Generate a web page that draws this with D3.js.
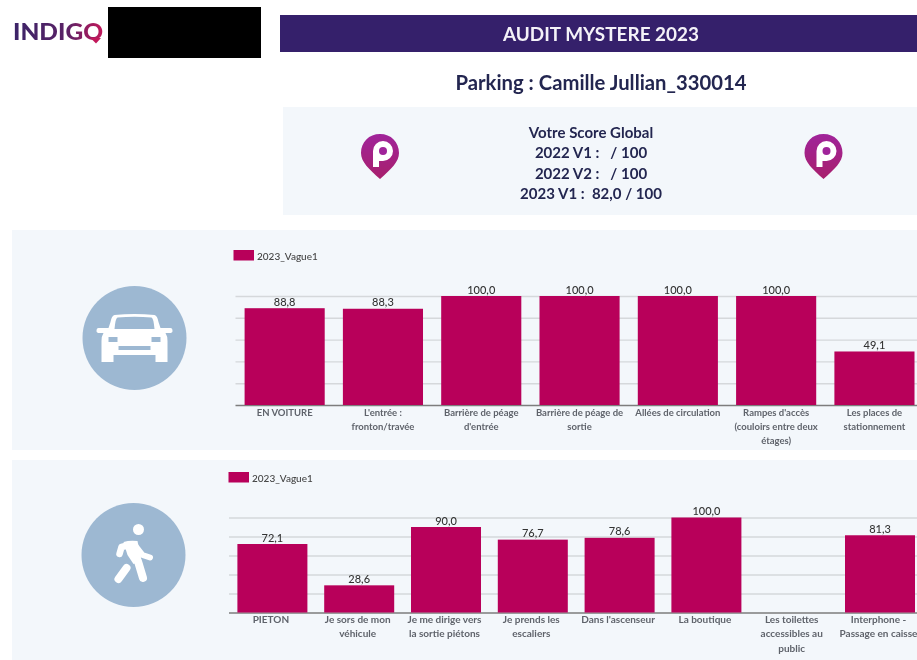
<!DOCTYPE html>
<html><head><meta charset="utf-8">
<script src="https://cdn.jsdelivr.net/npm/d3@7/dist/d3.min.js"></script>
<style>
html,body{margin:0;padding:0;background:#fff;overflow:hidden}
svg{display:block;font-family:Lato,"Open Sans",sans-serif;filter:blur(.5px)}
</style></head><body>
<svg id="c" width="917" height="660"></svg>
<script>
const carCategories = ["EN VOITURE","L'entrée :\nfronton/travée","Barrière de péage\nd'entrée","Barrière de péage de\nsortie","Allées de circulation","Rampes d'accès\n(couloirs entre deux\nétages)","Les places de\nstationnement"];
const carValues = [88.8,88.3,100,100,100,100,49.1];
const walkCategories = ["PIETON","Je sors de mon\nvéhicule","Je me dirige vers\nla sortie piétons","Je prends les\nescaliers","Dans l'ascenseur","La boutique","Les toilettes\naccessibles au\npublic","Interphone -\nPassage en caisse"];
const walkValues = [72.1,28.6,90,76.7,78.6,100,null,81.3];
const seriesName = "2023_Vague1";
const yTicks = [0,20,40,60,80,100];
const scoreLines = ["Votre Score Global","2022 V1 :   / 100","2022 V2 :   / 100","2023 V1 :  82,0 / 100"];

const svg = d3.select("#c");
const fmt = v => v.toFixed(1).replace(".", ",");
const BAR = "#b8005a", PANEL = "#f3f7fb", NAVY = "#232650", BLUE = "#9db8d2";

const defs = svg.append("defs");
const logoGrad = defs.append("linearGradient").attr("id","logo").attr("gradientUnits","userSpaceOnUse").attr("x1",13).attr("x2",103).attr("y1",0).attr("y2",0);
logoGrad.append("stop").attr("offset","0").attr("stop-color","#3b2468");
logoGrad.append("stop").attr("offset","0.6").attr("stop-color","#5a2266");
logoGrad.append("stop").attr("offset","1").attr("stop-color","#c2185b");
const grad = defs.append("linearGradient").attr("id","pin").attr("x1",0).attr("x2",0).attr("y1",0).attr("y2",1);
grad.append("stop").attr("offset","0").attr("stop-color","#a0249a");
grad.append("stop").attr("offset","1").attr("stop-color","#a81f6c");

// page furniture
svg.append("rect").attr("x",108).attr("y",7).attr("width",153).attr("height",51).attr("fill","#000");
svg.append("text").attr("x",13).attr("y",39.5).attr("font-size",23).attr("font-weight",900).attr("fill","url(#logo)").attr("textLength",90).attr("lengthAdjust","spacingAndGlyphs").text("INDIGO");
svg.append("path").attr("d","M90.5 38L96 43.5L101 38Z").attr("fill","#c2185b");
svg.append("rect").attr("x",280).attr("y",15).attr("width",637).attr("height",37).attr("fill","#35206b");
svg.append("text").attr("x",601).attr("y",40.5).attr("text-anchor","middle").attr("font-size",18).attr("font-weight",700).attr("fill","#f4f2f8").attr("textLength",196).attr("lengthAdjust","spacingAndGlyphs").text("AUDIT MYSTERE 2023");
svg.append("text").attr("x",601).attr("y",90).attr("text-anchor","middle").attr("font-size",20).attr("font-weight",700).attr("fill",NAVY).attr("textLength",291).attr("lengthAdjust","spacingAndGlyphs").text("Parking : Camille Jullian_330014");
svg.append("rect").attr("x",283).attr("y",107).attr("width",634).attr("height",108).attr("fill",PANEL);
svg.selectAll("text.score").data(scoreLines).join("text").attr("class","score")
  .attr("x",591).attr("y",(d,i)=>137.5+i*20.5).attr("text-anchor","middle").attr("font-size",15).attr("font-weight",700).attr("fill",NAVY).style("white-space","pre").text(d=>d);

[380,823.5].forEach(x=>{
  const g = svg.append("g").attr("transform",`translate(${x},157)`);
  g.append("path").attr("d","M0-23C11-23 19-15 19-4C19 5 11 12 0 22C-11 12-19 5-19-4C-19-15-11-23 0-23Z").attr("fill","url(#pin)");
  g.append("path").attr("d","M-7 10V-6A10 10 0 1 1 3 4H-1V10Z").attr("fill","#fff");
  g.append("circle").attr("cx",3).attr("cy",-6).attr("r",4).attr("fill","#a0249a");
});

// chart panels
function chart(o){
  svg.append("rect").attr("x",12).attr("y",o.panelTop).attr("width",905).attr("height",o.panelH).attr("fill",PANEL);
  const x = d3.scaleBand().domain(o.categories).range([o.left,o.left+o.step*o.categories.length]).paddingInner(o.pad).paddingOuter(o.pad/2);
  const y = d3.scaleLinear().domain([0,100]).range([o.base,o.top]);
  const ax = svg.append("g").attr("transform",`translate(${o.left},0)`)
    .call(d3.axisLeft(y).tickValues(yTicks).tickSize(-(o.step*o.categories.length)).tickFormat(""));
  ax.select(".domain").remove();
  ax.selectAll(".tick line").attr("stroke",d=>d===0?"#7d7d7d":"#d5d8db").attr("stroke-width",1.4);
  const d = o.categories.map((c,i)=>({c,v:o.values[i]}));
  svg.selectAll(null).data(d.filter(e=>e.v!=null)).join("rect")
    .attr("x",e=>x(e.c)).attr("width",x.bandwidth()).attr("y",e=>y(e.v)).attr("height",e=>o.base-y(e.v)).attr("fill",BAR);
  svg.selectAll(null).data(d.filter(e=>e.v!=null)).join("text")
    .attr("x",e=>x(e.c)+x.bandwidth()/2).attr("y",e=>y(e.v)-2.5).attr("text-anchor","middle").attr("font-size",11).attr("font-weight",500).attr("fill","#333").text(e=>fmt(e.v));
  d.forEach(e=>{
    const t = svg.append("text").attr("text-anchor","middle").attr("font-size",o.labelSize).attr("font-weight",700).attr("fill","#5f636b");
    e.c.split("\n").forEach((l,i)=>t.append("tspan").attr("x",x(e.c)+x.bandwidth()/2+o.labelDx).attr("y",o.base+10.5+i*14.3).text(l));
  });
  svg.append("rect").attr("x",o.legX).attr("y",o.legY).attr("width",20.5).attr("height",10.5).attr("fill",BAR);
  svg.append("text").attr("x",o.legX+23.5).attr("y",o.legY+9.5).attr("font-size",10).attr("font-weight",500).attr("fill","#444").text(seriesName);
}
chart({panelTop:230,panelH:220,categories:carCategories,values:carValues,left:235.5,step:98.3,pad:.185,base:405,top:296,legX:233.5,legY:250,labelSize:9.5,labelDx:0});
chart({panelTop:460,panelH:200,categories:walkCategories,values:walkValues,left:229,step:86.8,pad:.1935,base:612.5,top:517.5,legX:228.5,legY:472,labelSize:10,labelDx:-1.5});

// icons
const car = svg.append("g").attr("transform","translate(134.5,338)");
car.append("circle").attr("r",52).attr("fill",BLUE);
car.append("path").attr("fill","#fff").attr("fill-rule","evenodd").attr("d","M-20-23Q0-25 20-23Q23-22 24-16L26-10H36Q38-10 38-7Q38-5 35-5H31Q33-2 33 3V24H21V17H-21V24H-33V3Q-33-2-31-5H-35Q-38-5-38-7Q-38-10-36-10H-26L-24-16Q-23-22-20-23ZM-17-20.5Q-19-20-20-9H20Q19-20 17-20.5Q0-22-17-20.5ZM-26-1H-17V4H-26ZM17-1H26V4H17ZM-16 8H16V12H-16Z");
const walk = svg.append("g").attr("transform","translate(133.5,555)");
walk.append("circle").attr("r",52).attr("fill",BLUE);
walk.append("circle").attr("cx",5).attr("cy",-25.5).attr("r",5.5).attr("fill","#fff");
const limbs = walk.append("g").attr("fill","none").attr("stroke","#fff").attr("stroke-linecap","round").attr("stroke-linejoin","round");
limbs.append("path").attr("stroke-width",6.5).attr("d","M-4-10L-12-8L-14-1");
limbs.append("path").attr("stroke-width",6).attr("d","M2-9L9 0L16.5 2.5");
limbs.append("path").attr("stroke-width",8).attr("d","M0-5L5 8L9.5 23");
limbs.append("path").attr("stroke-width",8).attr("d","M-7 13L-15 24");
walk.append("path").attr("fill","#fff").attr("d","M-10-13Q-4-15 4-14L8 6L0 9L-6 0Z");
</script></body></html>
